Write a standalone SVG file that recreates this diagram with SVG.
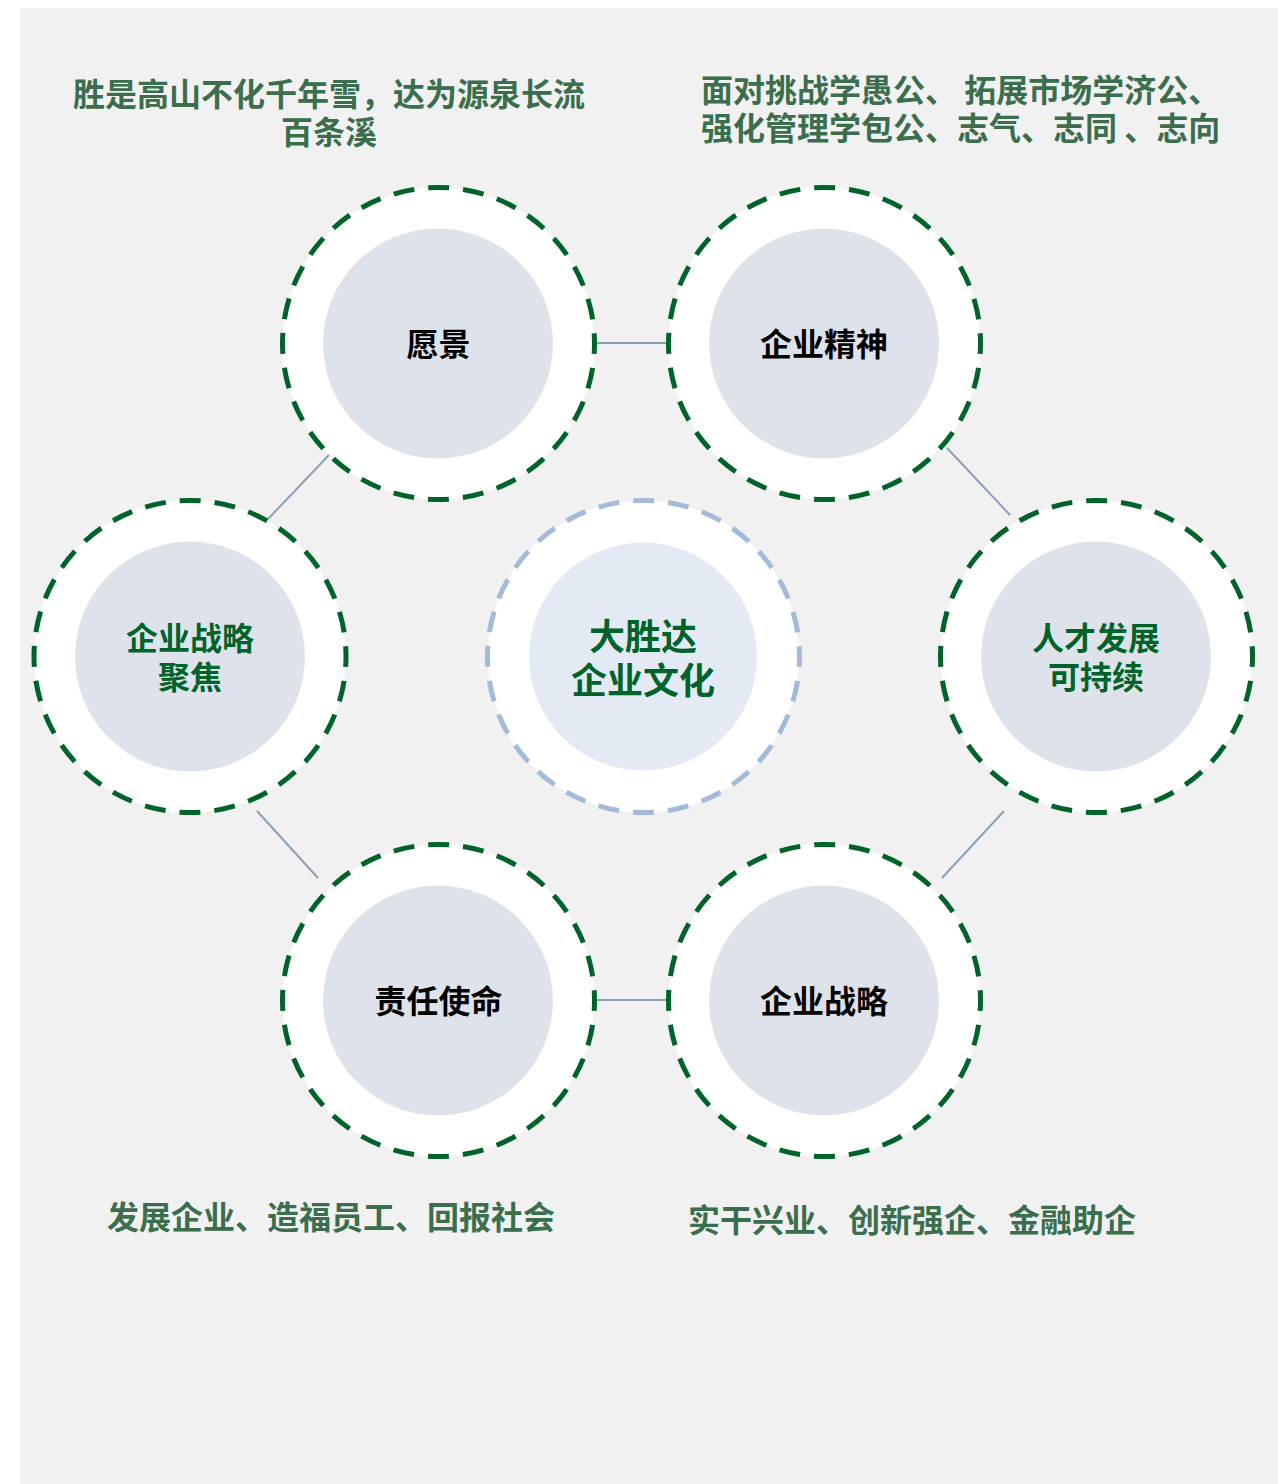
<svg xmlns="http://www.w3.org/2000/svg" width="1278" height="1484" viewBox="0 0 1278 1484">
<style>
.ring{fill:#FFFFFF;stroke:#00632A;stroke-width:5;stroke-dasharray:21 14;stroke-dashoffset:10.5}
.ringc{fill:#FFFFFF;stroke:#A3BBD9;stroke-width:5;stroke-dasharray:21 14;stroke-dashoffset:10.5}
.inner{fill:#DEE3EB}
.innerc{fill:#E4EAF4}
.t{font-family:"Noto Sans CJK SC","Noto Sans",sans-serif;font-weight:700}
.lbl{font-size:32px;text-anchor:middle;fill:#000000}
.lblg{font-size:32px;text-anchor:middle;fill:#00632A}
.lblc{font-size:36px;text-anchor:middle;fill:#00632A}
.note{font-size:32px;fill:#3A6E4C}
.conn line{stroke:#8C9FBA;stroke-width:2}
</style>
<rect x="20" y="8" width="1258" height="1476" fill="#F1F1F1"/>
<g id="connectors" class="conn">
<line x1="595" y1="343" x2="668" y2="343"/>
<line x1="329" y1="455" x2="268" y2="519"/>
<line x1="947" y1="448" x2="1010" y2="515"/>
<line x1="257" y1="811" x2="318" y2="878"/>
<line x1="1004" y1="811" x2="942" y2="878"/>
<line x1="595" y1="1000" x2="668" y2="1000"/>
</g>
<g id="node-vision">
<circle class="ring" cx="438.5" cy="343.5" r="156"/>
<circle class="inner" cx="438" cy="343.5" r="115"/>
<text class="t lbl" x="438.5" y="356">愿景</text>
</g>
<g id="node-spirit">
<circle class="ring" cx="824.5" cy="343.5" r="156"/>
<circle class="inner" cx="824" cy="343.5" r="115"/>
<text class="t lbl" x="824" y="356">企业精神</text>
</g>
<g id="node-focus">
<circle class="ring" cx="190" cy="656.5" r="156"/>
<circle class="inner" cx="190" cy="656.5" r="115"/>
<text class="t lblg" x="190" y="650">企业战略</text>
<text class="t lblg" x="190" y="689">聚焦</text>
</g>
<g id="node-center">
<circle class="ringc" cx="643.5" cy="656.5" r="156"/>
<circle class="innerc" cx="643" cy="656.5" r="114"/>
<text class="t lblc" x="643" y="650">大胜达</text>
<text class="t lblc" x="643" y="694">企业文化</text>
</g>
<g id="node-talent">
<circle class="ring" cx="1096.5" cy="656.5" r="156"/>
<circle class="inner" cx="1096" cy="656.5" r="115"/>
<text class="t lblg" x="1096" y="650">人才发展</text>
<text class="t lblg" x="1096" y="689">可持续</text>
</g>
<g id="node-mission">
<circle class="ring" cx="438.5" cy="1000.5" r="156"/>
<circle class="inner" cx="438" cy="1000.5" r="115"/>
<text class="t lbl" x="438.5" y="1013">责任使命</text>
</g>
<g id="node-strategy">
<circle class="ring" cx="824.5" cy="1000.5" r="156"/>
<circle class="inner" cx="824" cy="1000.5" r="115"/>
<text class="t lbl" x="824" y="1013">企业战略</text>
</g>
<g id="notes">
<text class="t note" x="329" y="106" text-anchor="middle">胜是高山不化千年雪，达为源泉长流</text>
<text class="t note" x="329" y="144" text-anchor="middle">百条溪</text>
<text class="t note" x="701" y="102">面对挑战学愚公、 拓展市场学济公、</text>
<text class="t note" x="701" y="140">强化管理学包公、志气、志同 、志向</text>
<text class="t note" x="107" y="1229">发展企业、造福员工、回报社会</text>
<text class="t note" x="688" y="1232">实干兴业、创新强企、金融助企</text>
</g>
</svg>
